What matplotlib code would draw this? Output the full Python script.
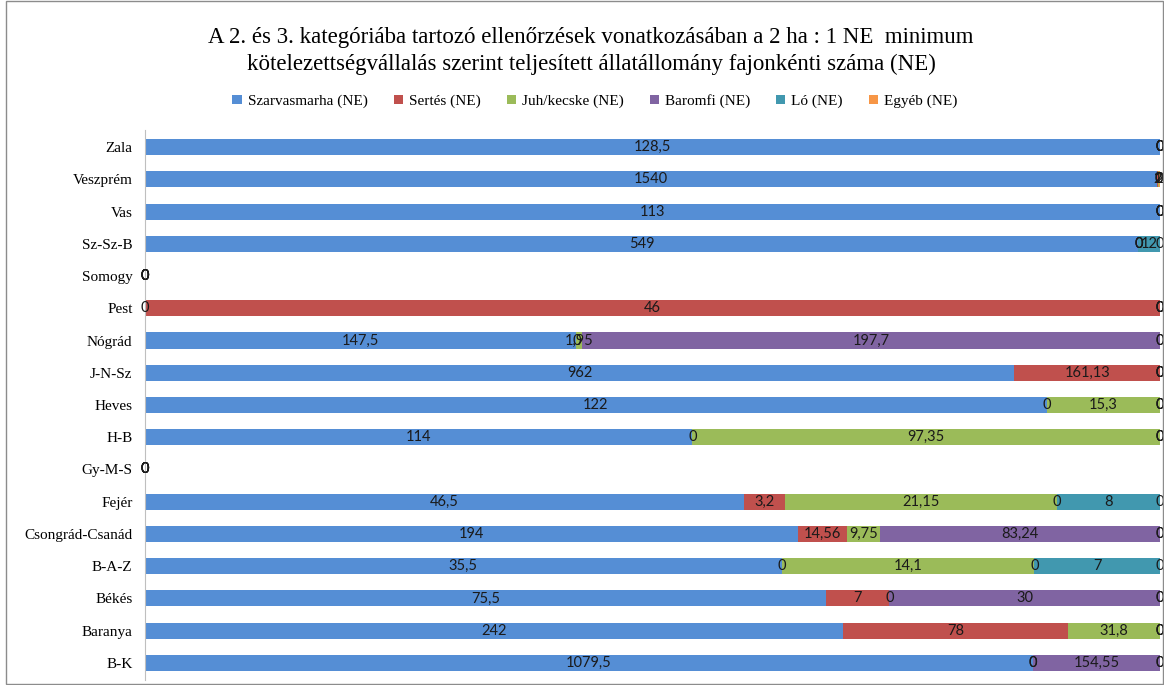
import matplotlib
matplotlib.use("Agg")
import matplotlib.pyplot as plt
from matplotlib.patches import Rectangle
import numpy as np

categories = ["Zala", "Veszprém", "Vas", "Sz-Sz-B", "Somogy", "Pest", "Nógrád", "J-N-Sz",
              "Heves", "H-B", "Gy-M-S", "Fejér", "Csongrád-Csanád", "B-A-Z", "Békés",
              "Baranya", "B-K"]
series_names = ["Szarvasmarha (NE)", "Sertés (NE)", "Juh/kecske (NE)", "Baromfi (NE)",
                "Ló (NE)", "Egyéb (NE)"]
szarvasmarha = [128.5, 1540, 113, 549, 0, 0, 147.5, 962, 122, 114, 0, 46.5, 194, 35.5, 75.5, 242, 1079.5]
sertes       = [0, 2, 0, 0, 0, 46, 0, 161.13, 0, 0, 0, 3.2, 14.56, 0, 7, 78, 0]
juh          = [0, 1, 0, 0, 0, 0, 1.95, 0, 15.3, 97.35, 0, 21.15, 9.75, 14.1, 0, 31.8, 0]
baromfi      = [0, 0, 0, 0, 0, 0, 197.7, 0, 0, 0, 0, 0, 83.24, 0, 30, 0, 154.55]
lo           = [0, 0, 0, 12, 0, 0, 0, 0, 0, 0, 0, 8, 0, 7, 0, 0, 0]
egyeb        = [0, 2, 0, 0, 0, 0, 0, 0, 0, 0, 0, 0, 0, 0, 0, 0, 0]

colors = ["#558ED5", "#C0504D", "#9BBB59", "#8064A2", "#4198AF", "#F79646"]

data = np.array([szarvasmarha, sertes, juh, baromfi, lo, egyeb], dtype=float)
totals = data.sum(axis=0)
safe = np.where(totals > 0, totals, 1)
pct = data / safe * 100

W, H = 1164, 685
fig = plt.figure(figsize=(W / 100, H / 100), dpi=100)
fig.patches.append(Rectangle((6 / W, 1 / H), 1 - 7 / W, 1 - 2 / H, transform=fig.transFigure,
                             fill=False, edgecolor="#8C8C8C", linewidth=1.0))

ax = fig.add_axes([145 / W, 5 / H, 1015 / W, 550 / H])
y = np.arange(len(categories))
left = np.zeros(len(categories))
handles = []
for i, name in enumerate(series_names):
    b = ax.barh(y, pct[i], left=left, height=0.5, color=colors[i], label=name)
    handles.append(b)
    for j in range(len(categories)):
        v = data[i, j]
        xc = left[j] + pct[i, j] / 2
        txt = f"{v:g}".replace(".", ",")
        ax.text(xc, y[j], txt, ha="center", va="center", fontsize=10.5,
                family=["Lato", "DejaVu Sans"], color="#1a1a1a", clip_on=False)
    left = left + pct[i]

ax.set_xlim(0, 100)
ax.set_ylim(len(categories) - 0.47, -0.53)
ax.set_yticks(y)
ax.set_yticklabels(categories, family=["Liberation Serif"], fontsize=11)
ax.tick_params(axis="y", length=0, pad=9)
ax.set_xticks([])
for s in ["top", "right", "bottom"]:
    ax.spines[s].set_visible(False)
ax.spines["left"].set_color("#BFBFBF")

fig.text(591 / W, 1 - 38 / H,
         "A 2. és 3. kategóriába tartozó ellenőrzések vonatkozásában a 2 ha : 1 NE  minimum",
         ha="center", va="center", fontsize=16.5, family=["Liberation Serif"])
fig.text(591 / W, 1 - 64 / H,
         "kötelezettségvállalás szerint teljesített állatállomány fajonkénti száma (NE)",
         ha="center", va="center", fontsize=16.5, family=["Liberation Serif"])

fig.legend(handles=handles, labels=series_names, loc="center", ncol=6,
           bbox_to_anchor=(595 / W, 1 - 101 / H), frameon=False,
           prop={"family": "Liberation Serif", "size": 11},
           handlelength=0.6, handleheight=0.6, handletextpad=0.4, columnspacing=1.7)

fig.savefig("out.png", dpi=100)
